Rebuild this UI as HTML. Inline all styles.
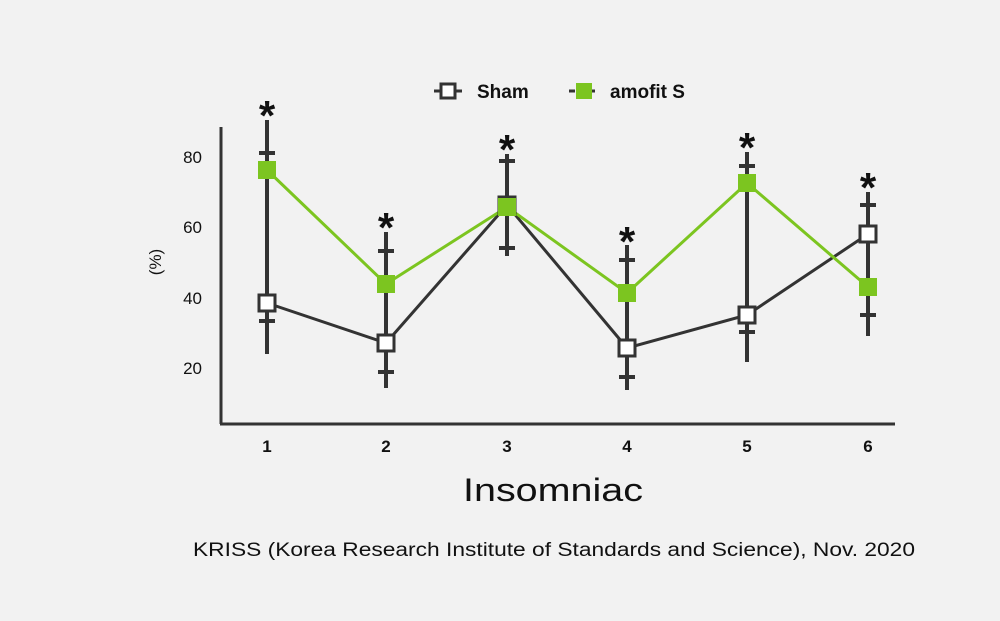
<!DOCTYPE html>
<html><head><style>
html,body{margin:0;padding:0;background:#f2f2f2;}
svg{display:block;}
text{font-family:"Liberation Sans",sans-serif;fill:#111;}
</style></head><body>
<svg width="1000" height="621" viewBox="0 0 1000 621">
<rect width="1000" height="621" fill="#f2f2f2"/>
<line x1="221" y1="127" x2="221" y2="424" stroke="#333" stroke-width="3"/>
<line x1="220" y1="424" x2="895" y2="424" stroke="#333" stroke-width="3"/>
<g font-size="17" text-anchor="end">
<text x="202" y="163">80</text><text x="202" y="233">60</text>
<text x="202" y="304">40</text><text x="202" y="374">20</text>
</g>
<text x="0" y="0" font-size="17" transform="translate(161,262) rotate(-90)" text-anchor="middle">(%)</text>
<g font-size="17" font-weight="bold" text-anchor="middle">
<text x="267" y="452">1</text><text x="386" y="452">2</text><text x="507" y="452">3</text>
<text x="627" y="452">4</text><text x="747" y="452">5</text><text x="868" y="452">6</text>
</g>
<text x="463" y="501" font-size="32" textLength="180" lengthAdjust="spacingAndGlyphs">Insomniac</text>
<text x="193" y="556" font-size="19" textLength="722" lengthAdjust="spacingAndGlyphs">KRISS (Korea Research Institute of Standards and Science), Nov. 2020</text>
<g stroke="#333" stroke-width="4">
<line x1="267" y1="120" x2="267" y2="354"/><line x1="259" y1="153" x2="275" y2="153"/><line x1="259" y1="321" x2="275" y2="321"/>
<line x1="386" y1="232" x2="386" y2="388"/><line x1="378" y1="251" x2="394" y2="251"/><line x1="378" y1="372" x2="394" y2="372"/>
<line x1="507" y1="154" x2="507" y2="256"/><line x1="499" y1="161" x2="515" y2="161"/><line x1="499" y1="248" x2="515" y2="248"/>
<line x1="627" y1="245" x2="627" y2="390"/><line x1="619" y1="260" x2="635" y2="260"/><line x1="619" y1="377" x2="635" y2="377"/>
<line x1="747" y1="152" x2="747" y2="362"/><line x1="739" y1="166" x2="755" y2="166"/><line x1="739" y1="332" x2="755" y2="332"/>
<line x1="868" y1="192" x2="868" y2="336"/><line x1="860" y1="205" x2="876" y2="205"/><line x1="860" y1="315" x2="876" y2="315"/>
</g>
<polyline points="267,303 386,343 507,205 627,348 747,315 868,234" fill="none" stroke="#333" stroke-width="3"/>
<polyline points="267,170 386,284 507,207 627,293 747,183 868,287" fill="none" stroke="#7cc520" stroke-width="3"/>
<g fill="#fff" stroke="#333" stroke-width="3">
<rect x="259" y="295" width="16" height="16"/><rect x="378" y="335" width="16" height="16"/>
<rect x="499" y="197" width="16" height="16"/><rect x="619" y="340" width="16" height="16"/>
<rect x="739" y="307" width="16" height="16"/><rect x="860" y="226" width="16" height="16"/>
</g>
<g fill="#7cc520">
<rect x="258" y="161" width="18" height="18"/><rect x="377" y="275" width="18" height="18"/>
<rect x="498" y="198" width="18" height="18"/><rect x="618" y="284" width="18" height="18"/>
<rect x="738" y="174" width="18" height="18"/><rect x="859" y="278" width="18" height="18"/>
</g>
<g font-size="42" font-weight="bold" text-anchor="middle">
<text x="267" y="130">*</text><text x="386" y="242">*</text><text x="507" y="164">*</text>
<text x="627" y="256">*</text><text x="747" y="162">*</text><text x="868" y="202">*</text>
</g>
<line x1="434" y1="91" x2="462" y2="91" stroke="#333" stroke-width="3"/>
<rect x="441" y="84" width="14" height="14" fill="#fff" stroke="#333" stroke-width="3"/>
<text x="477" y="98" font-size="19" font-weight="bold">Sham</text>
<line x1="569" y1="91" x2="599" y2="91" stroke="#333" stroke-width="3" stroke-dasharray="6,4"/>
<rect x="576" y="83" width="16" height="16" fill="#7cc520"/>
<text x="610" y="98" font-size="19" font-weight="bold">amofit S</text>
</svg>
</body></html>
